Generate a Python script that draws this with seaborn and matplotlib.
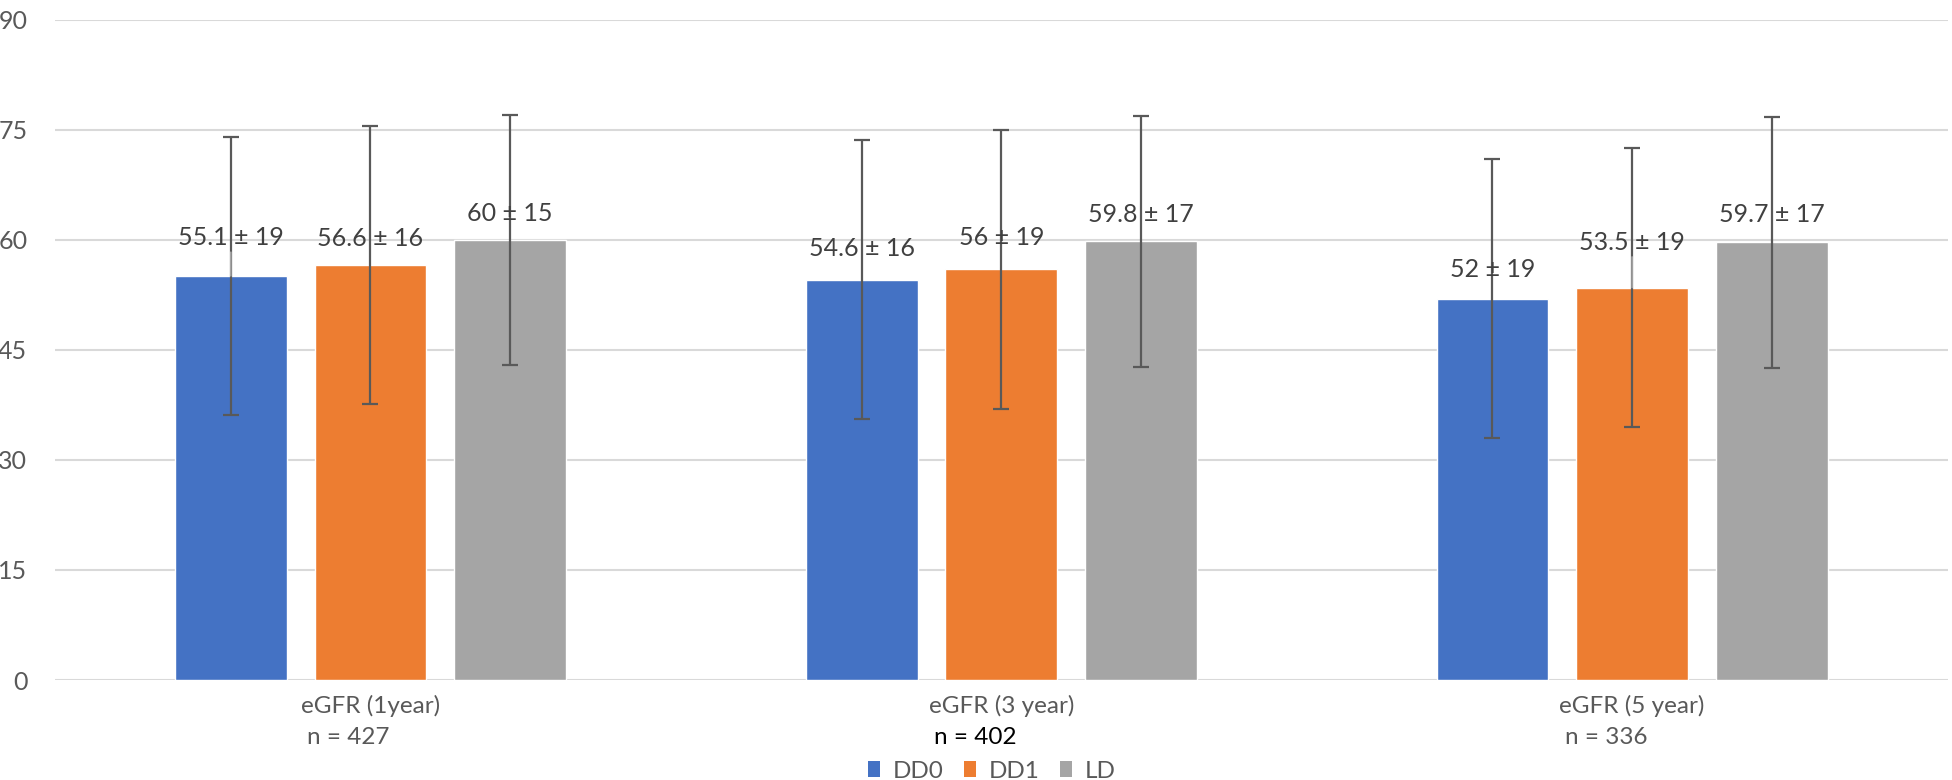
import pandas as pd
import matplotlib
matplotlib.use("Agg")
import matplotlib.pyplot as plt
import seaborn as sns
from matplotlib.patches import Patch

# dati
categories = ["eGFR (1year)", "eGFR (3 year)", "eGFR (5 year)"]
n_labels = ["n = 427", "n = 402", "n = 336"]
groups = ["DD0", "DD1", "LD"]
dd0_mean = [55.1, 54.6, 52.0]
dd1_mean = [56.6, 56.0, 53.5]
ld_mean = [60.0, 59.8, 59.7]
dd0_err = [19, 19, 19]
dd1_err = [19, 19, 19]
ld_err = [17.1, 17.1, 17.1]
dd0_text = ["55.1 \u00b1 19", "54.6 \u00b1 16", "52 \u00b1 19"]
dd1_text = ["56.6 \u00b1 16", "56 \u00b1 19", "53.5 \u00b1 19"]
ld_text = ["60 \u00b1 15", "59.8 \u00b1 17", "59.7 \u00b1 17"]

colors = ["#4472C4", "#ED7D31", "#A5A5A5"]
grey_txt = "#595959"

rows = []
for g, means, errs, texts in zip(groups, [dd0_mean, dd1_mean, ld_mean],
                                 [dd0_err, dd1_err, ld_err],
                                 [dd0_text, dd1_text, ld_text]):
    for c, m, e, t in zip(categories, means, errs, texts):
        rows.append({"category": c, "group": g, "mean": m, "err": e, "label": t})
df = pd.DataFrame(rows)

sns.set_theme(style="white")
plt.rcParams["font.family"] = ["Lato", "DejaVu Sans"]

fig = plt.figure(figsize=(19.52, 7.8), dpi=100)
ax = fig.add_axes([0.0282, 0.1282, 0.9695, 0.8462])

sns.barplot(data=df, x="category", y="mean", hue="group", palette=colors,
            order=categories, hue_order=groups, width=0.664, gap=0.2,
            errorbar=None, saturation=1, legend=False, ax=ax)

# distanza (px) tra cima della barra e linea di base dell'etichetta
gap_px = {("DD0", 0): 31, ("DD1", 0): 19, ("LD", 0): 19,
          ("DD0", 1): 24, ("DD1", 1): 24, ("LD", 1): 19,
          ("DD0", 2): 22, ("DD1", 2): 38, ("LD", 2): 20}
# etichette spostate a mano (con linea di richiamo)
moved = [("DD0", 0), ("DD1", 2)]

for container, g in zip(ax.containers, groups):
    sub = df[df["group"] == g].reset_index(drop=True)
    for i, bar in enumerate(container):
        xc = bar.get_x() + bar.get_width() / 2
        h = bar.get_height()
        ax.errorbar(xc, h, yerr=sub.loc[i, "err"], fmt="none", ecolor="#595959",
                    elinewidth=1.6, capsize=6, capthick=1.6, zorder=4)
        off = gap_px[(g, i)] * 72 / 100
        arrow = None
        if (g, i) in moved:
            arrow = dict(arrowstyle="-", color="#A6A6A6", lw=1.2,
                         shrinkA=0, shrinkB=0)
        ax.annotate(sub.loc[i, "label"], xy=(xc, h), xytext=(0, off),
                    textcoords="offset points", ha="center", va="baseline",
                    fontsize=18, color="#404040", zorder=5, arrowprops=arrow)

ax.set_ylim(0, 90)
ax.set_yticks(range(0, 91, 15))
ax.set_xlim(-0.5, 2.5)
ax.yaxis.grid(True, color="#D9D9D9", linewidth=1.5)
ax.set_axisbelow(True)
for s in ax.spines.values():
    s.set_visible(False)
ax.tick_params(axis="y", length=0, pad=20, labelsize=18, labelcolor=grey_txt)
ax.tick_params(axis="x", length=0, pad=11, labelsize=17.5, labelcolor=grey_txt)
ax.set_xlabel("")
ax.set_ylabel("")

# seconda riga (n) allineata a sinistra sotto le etichette dell'asse x
fig.canvas.draw()
renderer = fig.canvas.get_renderer()
for lab, ntxt in zip(ax.get_xticklabels(), n_labels):
    bb = lab.get_window_extent(renderer)
    col = "black" if ntxt == "n = 402" else grey_txt
    fig.text(bb.x0 / fig.bbox.width + 0.003, bb.y0 / fig.bbox.height - 0.012,
             ntxt, ha="left", va="top", fontsize=17.5, color=col)

handles = [Patch(facecolor=c, edgecolor="none") for c in colors]
fig.legend(handles, groups, loc="center", bbox_to_anchor=(0.508, 0.0115),
           ncol=3, frameon=False, fontsize=17.5, handlelength=0.5,
           handleheight=0.65, handletextpad=0.53, columnspacing=0.82,
           labelcolor=grey_txt, borderpad=0, borderaxespad=0)

fig.savefig("out.png", dpi=100)
